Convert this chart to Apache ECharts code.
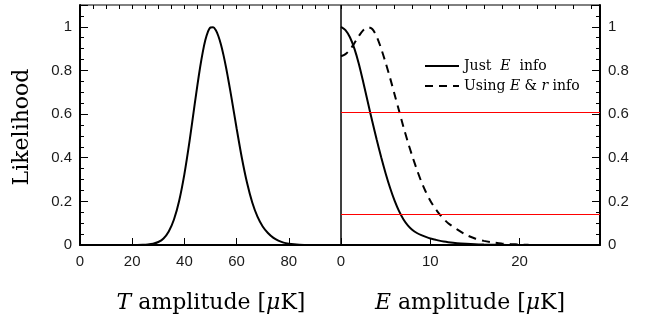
<!DOCTYPE html>
<html>
<head>
<meta charset="utf-8">
<script src="https://cdn.jsdelivr.net/npm/echarts@6/dist/echarts.min.js"></script>
<style>html,body{margin:0;padding:0;background:#fff}#c{width:649px;height:321px}</style>
</head>
<body>
<div id="c"></div>
<script>
// ---- data ----
const tAmplitude = [22,24,26,28,30,32,34,36,38,40,42,44,45,46,47,48,49,50,51,52,53,54,55,56,57,58,60,62,64,66,68,70,72,74,76,78,80,82,84,86,88];
const tLikelihood = [0,0.0006,0.0022,0.0057,0.0137,0.030,0.062,0.117,0.203,0.325,0.478,0.650,0.734,0.813,0.882,0.938,0.977,0.997,0.998,0.985,0.958,0.919,0.869,0.811,0.746,0.678,0.535,0.400,0.285,0.195,0.130,0.085,0.055,0.034,0.020,0.011,0.006,0.003,0.0012,0.0004,0];
const eAmplitude = [0,0.5,1,1.5,2,2.5,3,3.5,4,4.5,5,5.5,6,6.5,7,7.5,8,8.5,9,9.5,10,10.5,11,11.5,12,13,14,15,16,17,18,19,20,21];
const eJustInfo = [1.0,0.985,0.952,0.9,0.83,0.745,0.655,0.567,0.482,0.402,0.328,0.261,0.203,0.155,0.117,0.089,0.069,0.055,0.045,0.037,0.030,0.025,0.020,0.016,0.013,0.0085,0.0055,0.0033,0.002,0.0012,0.0007,0.0004,0.0002,0.0001];
const eUsingInfo = [0.865,0.875,0.895,0.925,0.958,0.985,0.998,0.99,0.955,0.9,0.835,0.765,0.69,0.615,0.54,0.47,0.405,0.345,0.29,0.243,0.203,0.17,0.143,0.12,0.1,0.072,0.047,0.03,0.019,0.012,0.007,0.004,0.002,0.001];
const thresholds = [0.6065, 0.1353];
const seriesNames = ['Just E info', 'Using E & r info'];
const legendLabels = ['Just  {i|E}  info', 'Using {i|E} & {i|r} info'];
const yTickLabels = ['0','0.2','0.4','0.6','0.8','1'];
const tTickLabels = ['0','20','40','60','80'];
const eTickLabels = ['0','10','20'];

const pairs = (xs, ys) => xs.map((x, i) => [x, ys[i]]);
const labelFont = {fontFamily: 'Liberation Sans', fontSize: 15, color: '#1a1a1a'};
const serif = 'DejaVu Serif';

function fmtFrom(list, step) {
  return function (v) {
    const k = Math.round(v / step);
    if (Math.abs(v - k * step) > 1e-6) return '';
    return list[k] !== undefined ? list[k] : '';
  };
}
function mainX(grid, min, max, interval, labels) {
  return {
    type: 'value', gridIndex: grid, min: min, max: max, interval: interval,
    axisLine: {show: true, onZero: false, lineStyle: {color: '#000', width: 2}},
    axisTick: {show: true, inside: true, length: 7, lineStyle: {color: '#000', width: 1}},
    axisLabel: Object.assign({margin: 9, formatter: fmtFrom(labels, interval)}, labelFont),
    splitLine: {show: false}
  };
}
function minorX(grid, min, max, interval) {
  return {
    type: 'value', gridIndex: grid, min: min, max: max, interval: interval,
    axisLine: {show: false, onZero: false},
    axisTick: {show: true, inside: true, length: 4, lineStyle: {color: '#000', width: 1}},
    axisLabel: {show: false}, splitLine: {show: false}
  };
}
function mainY(grid, pos) {
  return {
    type: 'value', gridIndex: grid, position: pos, min: 0, max: 1.1, interval: 0.2,
    axisLine: {show: true, onZero: false, lineStyle: {color: '#000', width: 2}},
    axisTick: {show: true, inside: true, length: 8, lineStyle: {color: '#000', width: 1}},
    axisLabel: Object.assign({margin: 8, formatter: fmtFrom(yTickLabels, 0.2)}, labelFont),
    splitLine: {show: false}
  };
}
function minorY(grid, pos) {
  return {
    type: 'value', gridIndex: grid, position: pos, min: 0, max: 1.1, interval: 0.05,
    axisLine: {show: false, onZero: false},
    axisTick: {show: true, inside: true, length: 4, lineStyle: {color: '#000', width: 1}},
    axisLabel: {show: false}, splitLine: {show: false}
  };
}

const chart = echarts.init(document.getElementById('c'), null, {renderer: 'canvas'});
chart.setOption({
  animation: false,
  backgroundColor: '#fff',
  grid: [
    {left: 80, top: 5, width: 261, height: 240, show: true, borderColor: '#000', borderWidth: 1},
    {left: 341, top: 5, width: 259, height: 240, show: true, borderColor: '#000', borderWidth: 1}
  ],
  xAxis: [
    mainX(0, 0, 100, 20, tTickLabels),
    mainX(1, 0, 29, 10, eTickLabels),
    minorX(0, 0, 100, 5),
    minorX(1, 0, 29, 2)
  ],
  yAxis: [
    mainY(0, 'left'),
    mainY(1, 'right'),
    minorY(0, 'left'),
    minorY(1, 'right')
  ],
  legend: {
    left: 419, top: 54, orient: 'vertical', itemWidth: 34, itemHeight: 14, itemGap: 6,
    data: seriesNames,
    itemStyle: {color: 'rgba(0,0,0,0)', borderColor: 'rgba(0,0,0,0)', borderWidth: 0, opacity: 0},
    formatter: name => legendLabels[seriesNames.indexOf(name)],
    textStyle: {fontFamily: serif, fontSize: 14, color: '#000',
      rich: {i: {fontFamily: serif, fontSize: 14, fontStyle: 'italic', color: '#000'}}}
  },
  graphic: [
    {type: 'text', x: 22, y: 127, rotation: Math.PI / 2,
      style: {text: 'Likelihood', fontFamily: serif, fontSize: 22, fill: '#000', align: 'center', verticalAlign: 'middle'}},
    {type: 'text', x: 211, y: 303,
      style: {text: '{i|T} amplitude [{i|μ}K]', fontFamily: serif, fontSize: 22, fill: '#000', align: 'center', verticalAlign: 'middle',
        rich: {i: {fontFamily: serif, fontSize: 22, fontStyle: 'italic', fill: '#000'}}}},
    {type: 'text', x: 470, y: 303,
      style: {text: '{i|E} amplitude [{i|μ}K]', fontFamily: serif, fontSize: 22, fill: '#000', align: 'center', verticalAlign: 'middle',
        rich: {i: {fontFamily: serif, fontSize: 22, fontStyle: 'italic', fill: '#000'}}}}
  ],
  series: [
    {type: 'line', name: 'T', xAxisIndex: 0, yAxisIndex: 0, data: pairs(tAmplitude, tLikelihood),
      symbol: 'none', smooth: 0.3, lineStyle: {color: '#000', width: 2}, z: 3},
    {type: 'line', name: seriesNames[0], xAxisIndex: 1, yAxisIndex: 1, data: pairs(eAmplitude, eJustInfo),
      symbol: 'none', smooth: 0.3, color: '#000', lineStyle: {color: '#000', width: 2}, z: 3,
      markLine: {silent: true, symbol: ['none', 'none'], label: {show: false},
        lineStyle: {color: '#ff0000', width: 1, type: 'solid'},
        data: thresholds.map(v => ({yAxis: v}))}},
    {type: 'line', name: seriesNames[1], xAxisIndex: 1, yAxisIndex: 1, data: pairs(eAmplitude, eUsingInfo),
      symbol: 'none', smooth: 0.3, color: '#000', lineStyle: {color: '#000', width: 2, type: [8, 6]}, z: 3}
  ]
});
</script>
</body>
</html>
